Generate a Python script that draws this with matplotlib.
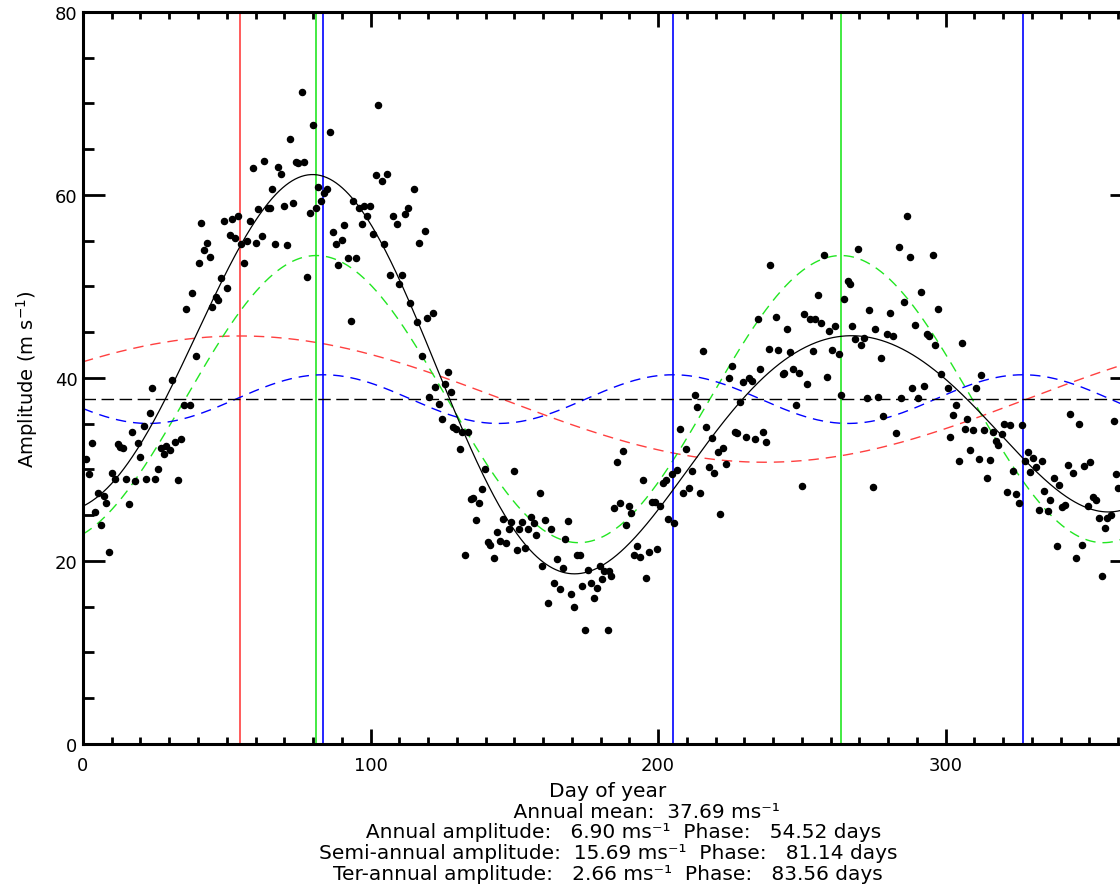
import numpy as np
import matplotlib
matplotlib.use("Agg")
import matplotlib.pyplot as plt

day_of_year = [
    0.9, 2.1, 3.2, 4.1, 5.2, 6.1, 7.2, 8.1, 9.0, 10.2, 11.1, 12.1, 13.0, 13.9, 14.8, 16.0,
    16.9, 18.0, 19.1, 19.9, 21.1, 22.0, 23.2, 24.1, 25.2, 26.2, 27.2, 28.1, 29.0, 30.1, 31.1,
    32.1, 33.0, 34.0, 35.0, 35.9, 37.1, 38.0, 39.2, 40.2, 41.0, 42.2, 43.1, 44.1, 45.0, 46.1,
    47.1, 48.0, 48.9, 50.0, 51.0, 51.9, 53.0, 53.9, 54.8, 56.0, 57.0, 58.0, 59.1, 60.1, 60.9,
    62.1, 63.1, 64.2, 65.0, 65.9, 66.9, 67.9, 68.9, 69.9, 70.9, 71.9, 72.9, 74.0, 74.9, 76.1,
    77.0, 78.0, 79.1, 80.0, 81.0, 81.9, 82.8, 83.8, 84.9, 85.9, 86.8, 87.9, 88.8, 90.0, 90.9,
    92.0, 93.1, 94.0, 94.9, 96.0, 96.9, 97.8, 98.9, 99.9, 101.0, 101.8, 102.7, 103.9, 104.8,
    105.9, 106.9, 107.9, 109.1, 110.0, 110.9, 112.0, 112.9, 113.9, 115.0, 116.1, 116.9, 117.8,
    118.8, 119.8, 120.4, 121.7, 122.6, 123.8, 124.9, 126.0, 126.9, 127.9, 128.8, 129.9, 131.0,
    131.9, 132.9, 133.9, 134.8, 135.8, 136.8, 137.7, 138.7, 139.7, 140.7, 141.7, 143.0, 144.0,
    145.0, 146.1, 147.0, 148.0, 148.9, 149.9, 150.8, 151.8, 152.8, 153.8, 154.8, 155.7, 156.7,
    157.7, 158.8, 159.8, 160.8, 161.8, 162.9, 163.9, 164.9, 165.9, 166.8, 167.7, 168.8, 169.8,
    170.7, 171.8, 172.7, 173.7, 174.7, 175.7, 176.8, 177.7, 178.7, 179.7, 180.4, 181.1, 182.6,
    182.9, 183.7, 184.6, 185.8, 186.7, 187.7, 188.8, 189.8, 190.6, 191.8, 192.7, 193.9, 194.8,
    195.9, 196.9, 197.9, 198.8, 199.8, 200.6, 201.8, 202.7, 203.6, 204.9, 205.7, 206.7, 207.7,
    208.7, 209.7, 210.8, 211.8, 212.8, 213.7, 214.7, 215.8, 216.7, 217.7, 218.7, 219.6, 220.7,
    221.7, 222.7, 223.7, 224.6, 225.6, 226.6, 227.6, 228.6, 229.6, 230.7, 231.7, 232.6, 233.6,
    234.7, 235.6, 236.5, 237.7, 238.6, 239.1, 241.1, 241.9, 243.3, 243.9, 244.7, 245.8, 246.9,
    247.9, 249.0, 250.0, 250.9, 251.8, 252.8, 254.0, 254.7, 255.6, 256.6, 257.6, 258.6, 259.5,
    260.4, 261.6, 262.8, 263.6, 264.8, 265.9, 266.7, 267.6, 268.5, 269.7, 270.6, 271.6, 272.6,
    273.5, 274.6, 275.5, 276.6, 277.5, 278.4, 279.6, 280.6, 281.7, 282.6, 283.7, 284.6, 285.6,
    286.5, 287.6, 288.5, 289.5, 290.5, 291.5, 292.4, 293.4, 294.3, 295.5, 296.4, 297.5, 298.5,
    300.8, 301.6, 302.7, 303.8, 304.7, 305.6, 306.6, 307.6, 308.6, 309.5, 310.6, 311.5, 312.3,
    313.4, 314.4, 315.4, 316.5, 317.4, 318.4, 319.5, 320.4, 321.5, 322.5, 323.6, 324.5, 325.5,
    326.5, 327.7, 328.6, 329.5, 330.5, 331.4, 332.6, 333.5, 334.4, 335.6, 336.5, 337.6, 338.7,
    339.6, 340.6, 341.6, 342.5, 343.4, 344.4, 345.4, 346.4, 347.4, 348.3, 349.5, 350.4, 351.3,
    352.2, 353.4, 354.3, 355.4, 356.3, 357.5, 358.5, 359.4, 360.1,
]
amplitude = [
    31.1, 29.5, 32.9, 25.3, 27.4, 23.9, 27.1, 26.3, 21.0, 29.6, 29.0, 32.8, 32.5, 32.4, 29.0, 26.2,
    34.1, 28.7, 32.9, 31.4, 34.8, 29.0, 36.2, 38.9, 29.0, 30.1, 32.4, 31.7, 32.6, 32.1, 39.8,
    33.0, 28.8, 33.3, 37.0, 47.5, 37.0, 49.3, 42.4, 52.6, 56.9, 54.0, 54.8, 53.2, 47.8, 48.9,
    48.5, 50.9, 57.2, 49.8, 55.6, 57.4, 55.3, 57.7, 54.6, 52.6, 55.0, 57.1, 62.9, 54.8, 58.5,
    55.5, 63.7, 58.6, 58.6, 60.7, 54.6, 63.1, 62.3, 58.8, 54.5, 66.1, 59.1, 63.6, 63.5, 71.2,
    63.6, 51.0, 58.0, 67.6, 58.6, 60.9, 59.3, 60.2, 60.6, 66.9, 55.9, 54.6, 52.3, 55.1, 56.7,
    53.1, 46.2, 59.3, 53.1, 58.6, 56.8, 58.8, 57.7, 58.8, 55.7, 62.2, 69.8, 61.5, 54.6,
    62.3, 51.2, 57.7, 56.8, 50.3, 51.3, 57.9, 58.6, 48.2, 60.6, 46.1, 54.8, 42.4,
    56.1, 46.6, 37.9, 47.1, 39.0, 37.2, 35.5, 39.3, 40.7, 38.5, 34.6, 34.4, 32.2,
    34.1, 20.6, 34.1, 26.8, 26.9, 24.5, 26.3, 27.9, 30.0, 22.1, 21.8, 20.3, 23.2,
    22.2, 24.6, 22.0, 23.5, 24.3, 29.8, 21.2, 23.5, 24.3, 21.4, 23.5, 24.8, 24.2,
    22.8, 27.4, 19.4, 24.5, 15.4, 23.5, 17.6, 20.2, 16.9, 19.2, 22.4, 24.4, 16.4,
    15.0, 20.6, 20.6, 17.3, 12.5, 19.0, 17.6, 15.9, 17.0, 19.5, 18.0, 18.9, 12.5,
    18.9, 18.4, 25.8, 30.8, 26.3, 32.0, 23.9, 26.0, 25.2, 20.7, 21.6, 20.4, 28.9,
    18.1, 21.0, 26.5, 26.5, 21.3, 26.0, 28.5, 28.9, 24.6, 29.5, 24.1, 29.9, 34.4,
    27.4, 32.2, 28.0, 29.8, 38.1, 36.8, 27.4, 43.0, 34.6, 30.3, 33.4, 29.6, 31.9,
    25.1, 32.3, 30.6, 40.0, 41.3, 34.1, 34.0, 37.4, 39.6, 33.6, 40.0, 39.7, 33.3,
    46.4, 41.0, 34.1, 33.0, 43.2, 52.3, 46.7, 43.1, 40.4, 40.5, 45.3, 42.8, 41.0,
    37.0, 40.5, 28.2, 47.0, 39.3, 46.4, 42.9, 46.4, 49.1, 46.0, 53.4, 40.1, 45.1,
    43.1, 45.7, 42.6, 38.1, 48.6, 50.6, 50.3, 45.7, 44.3, 54.1, 43.6, 44.4, 37.8,
    47.4, 28.1, 45.3, 37.9, 42.2, 35.8, 44.8, 47.1, 44.6, 34.0, 54.3, 37.8, 48.3,
    57.7, 53.2, 38.9, 45.8, 37.8, 49.4, 39.1, 44.8, 44.6, 53.4, 43.6, 47.5, 40.4,
    38.9, 33.5, 35.9, 37.0, 30.9, 43.8, 34.4, 35.5, 32.1, 34.3, 38.9, 31.1, 40.3,
    34.3, 29.1, 31.0, 34.1, 33.1, 32.7, 33.9, 35.0, 27.5, 34.9, 29.8, 27.3, 26.3,
    34.9, 30.9, 31.9, 29.7, 31.2, 30.3, 25.6, 30.9, 27.6, 25.5, 26.7, 29.1, 21.6,
    28.3, 25.9, 26.1, 30.5, 36.1, 29.6, 20.3, 35.0, 21.8, 30.4, 26.0, 30.8, 27.0,
    26.7, 24.7, 18.4, 23.6, 24.7, 25.0, 35.3, 29.5, 28.0,
]

# harmonic fit parameters as printed under the plot
annual_mean = 37.69
harmonic_names = ["Annual", "Semi-annual", "Ter-annual"]
harmonic_amp = [6.90, 15.69, 2.66]
harmonic_phase = [54.52, 81.14, 83.56]
harmonic_period = [365.0, 182.5, 365.0 / 3]
harmonic_color = ["#ff4040", "#22e622", "#0000ff"]

year_len = 365.0
plt.rcParams["font.family"] = ["DejaVu Sans"]

fig = plt.figure(figsize=(11.2, 8.87), dpi=100)
ax = fig.add_axes([0.0741, 0.1601, 0.9370, 0.8253])

t = np.linspace(0, year_len, 1000)
total = np.full_like(t, annual_mean)
for amp, ph, per, col in zip(harmonic_amp, harmonic_phase, harmonic_period, harmonic_color):
    comp = amp * np.cos(2 * np.pi * (t - ph) / per)
    total += comp
    ax.plot(t, annual_mean + comp, color=col, lw=1.0, dashes=(7.5, 5))
    # vertical lines at every maximum of this harmonic
    peak = ph
    while peak < year_len:
        ax.axvline(peak, color=col, lw=1.2)
        peak += per

ax.axhline(annual_mean, color="k", lw=1.0, dashes=(9, 4))
ax.plot(t, total, color="k", lw=0.9)
ax.plot(day_of_year, amplitude, "o", ms=4.4, color="k", mec="k", clip_on=False)

ax.set_xlim(0, year_len)
ax.set_ylim(0, 80)
ax.set_xticks([0, 100, 200, 300])
ax.set_xticks(np.arange(0, 366, 10), minor=True)
ax.set_yticks([0, 20, 40, 60, 80])
ax.set_yticks(np.arange(0, 81, 5), minor=True)
ax.tick_params(axis="both", which="both", direction="in", top=True, right=True,
               width=2.0, labelsize=13)
ax.tick_params(axis="x", which="major", length=11, pad=9)
ax.tick_params(axis="x", which="minor", length=5)
ax.tick_params(axis="y", which="major", length=16, pad=4)
ax.tick_params(axis="y", which="minor", length=8)
for sp in ax.spines.values():
    sp.set_linewidth(2.2)

W, H = 1120.0, 887.0
fig.text(27 / W, 1 - 379 / H, "Amplitude (m s$^{-1}$)", rotation=90,
         ha="center", va="center", fontsize=14)

# x title plus the fit summary, one centred block like the IDL multi-line title
summary = ["Day of year",
           " " * 12 + "Annual mean:  %.2f ms\u207b\u00b9" % annual_mean]
for i, (name, amp, ph) in enumerate(zip(harmonic_names, harmonic_amp, harmonic_phase)):
    pad = " " * 5 if i == 0 else ""
    summary.append("%s%s amplitude:  %5.2f ms\u207b\u00b9  Phase:   %.2f days" % (pad, name, amp, ph))
fig.text(608 / W, 1 - 833 / H, "\n".join(summary), ha="center", va="center",
         multialignment="center", fontsize=14.5, linespacing=1.13)

fig.savefig("out.png", dpi=100)
